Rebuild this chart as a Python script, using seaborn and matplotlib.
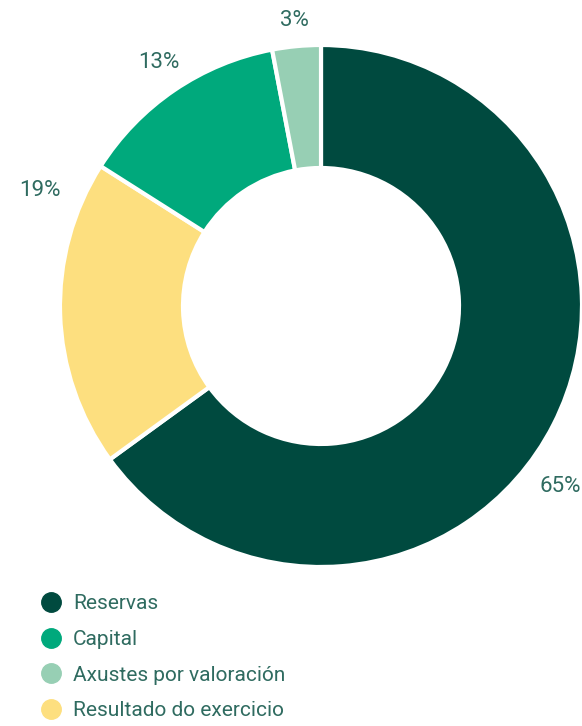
import matplotlib
matplotlib.use("Agg")
import matplotlib.pyplot as plt
from matplotlib.lines import Line2D
import numpy as np
import seaborn as sns

# Data
categories = ["Reservas", "Resultado do exercicio", "Capital", "Axustes por valoración"]
shares = [65, 19, 13, 3]
legend_order = ["Reservas", "Capital", "Axustes por valoración", "Resultado do exercicio"]
colors = {"Reservas": "#004a3f", "Capital": "#00a97c",
          "Axustes por valoración": "#97cfb4", "Resultado do exercicio": "#fddf7f"}
# label angles (deg) as placed in the original
label_angles = [-37, 157.6, 123.7, 95.4]
label_dist = [300, 304, 293, 287]

sns.set_theme(style="white")
plt.rcParams["font.family"] = ["Roboto", "DejaVu Sans"]
text_color = "#2f6b60"

fig = plt.figure(figsize=(5.82, 7.26), dpi=100)
ax = fig.add_axes([0, 0, 1, 1])

cx, cy, R = 321, 726 - 306, 261
wedges, _ = ax.pie(shares, colors=[colors[c] for c in categories],
                   startangle=90, counterclock=False, radius=R, center=(cx, cy),
                   wedgeprops=dict(width=123, edgecolor="white", linewidth=3))

for s, a, d in zip(shares, label_angles, label_dist):
    t = np.deg2rad(a)
    ax.text(cx + d * np.cos(t), cy + d * np.sin(t), f"{s}%", ha="center", va="center",
            fontsize=16, color=text_color)

handles = [Line2D([], [], marker="o", linestyle="", markersize=14,
                  markerfacecolor=colors[c], markeredgecolor=colors[c]) for c in legend_order]
ax.legend(handles, legend_order, loc="upper left", bbox_to_anchor=(28 / 582, 1 - 584 / 726),
          bbox_transform=fig.transFigure, frameon=False, fontsize=15, labelcolor=text_color,
          handletextpad=0.45, labelspacing=0.8, borderpad=0, handlelength=1.2)

ax.set_xlim(0, 582)
ax.set_ylim(0, 726)
ax.set_aspect("equal")
ax.axis("off")

fig.savefig("out.png", dpi=100)
